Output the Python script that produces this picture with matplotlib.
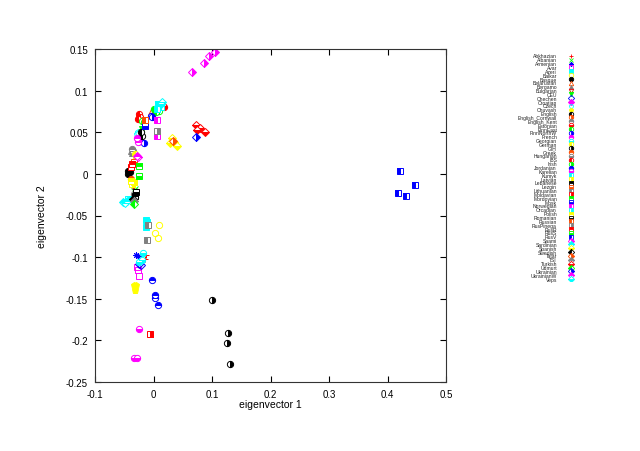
import matplotlib
matplotlib.use('Agg')
import matplotlib.pyplot as plt
from matplotlib.ticker import FuncFormatter, MultipleLocator

plt.rcParams['font.family'] = ['Liberation Sans', 'DejaVu Sans']

# population names, in legend order
pops = ['Abkhazian', 'Albanian', 'Armenian', 'Avar', 'Azeri', 'Balkar', 'Basque',
        'Belarusian', 'Bergamo', 'Bulgarian', 'CEU', 'Chechen', 'Croatian', 'Czech',
        'Chuvash', 'English', 'English_Cornwall', 'English_Kent', 'Estonian',
        'FinnEast', 'FinnNorthW', 'French', 'Georgian', 'German', 'GIH', 'Greek',
        'Hungarian', 'IBS', 'Irish', 'Jordanian', 'Karelian', 'Kumyk', 'Latvian',
        'Lebanese', 'Lezgin', 'Lithuanian', 'Moldavian', 'Mordovian', 'Mosk',
        'Norwegian', 'Orcadian', 'Polish', 'Romanian', 'Russian', 'RusPinega',
        'RusR', 'RusS', 'RusV', 'Saami', 'Sardinian', 'Spanish', 'Swedish', 'Tatar',
        'TSI', 'Turkish', 'Udmurt', 'Ukrainian', 'UkrainianW', 'Veps']

# eigenvector 1 values per population
ev1 = [
    [-0.0145, -0.012],
    [-0.033, -0.031],
    [-0.030, -0.027],
    [-0.026, -0.024, -0.028],
    [-0.012, -0.012, -0.011],
    [0.0094, 0.0025, 0.008],
    [-0.043, -0.043, -0.041],
    [-0.004, 0.0],
    [-0.038, -0.036],
    [-0.037, -0.035],
    [-0.021, -0.019, -0.022],
    [-0.025, -0.022],
    [-0.027, -0.025],
    [-0.028, -0.026],
    [-0.034, -0.030, -0.031],
    [-0.020, -0.022],
    [-0.024],
    [-0.037, -0.035],
    [0.018, 0.016],
    [0.0, 0.005, 0.010],
    [-0.004, -0.002, -0.016],
    [-0.029, -0.027],
    [-0.0175, -0.025, -0.020],
    [-0.032, -0.030],
    [0.0994, 0.128, 0.126, 0.1307],
    [-0.038],
    [-0.033, -0.031],
    [-0.025, -0.023, -0.026],
    [-0.019, -0.017],
    [-0.002, 0.0025, 0.0025, 0.007],
    [-0.024, -0.034, -0.029],
    [0.008, 0.012, 0.006],
    [-0.036, -0.034],
    [-0.033, -0.031],
    [-0.034],
    [-0.009, -0.0117],
    [-0.006],
    [-0.025],
    [-0.0146],
    [0.0054, 0.0054],
    [-0.044],
    [-0.039],
    [-0.030],
    [-0.015],
    [0.0054],
    [-0.038, -0.036],
    [-0.025],
    [0.421, 0.418, 0.4315, 0.447],
    [0.1056, 0.0953, 0.0868, 0.0663],
    [-0.0516, -0.046, -0.049],
    [0.031, 0.0396, 0.035, 0.029],
    [-0.035],
    [0.034],
    [-0.034],
    [0.0726, 0.080, 0.088, 0.075],
    [-0.034],
    [0.072],
    [-0.026, -0.028],
    [0.012, 0.014],
]

# eigenvector 2 values per population
ev2 = [
    [-0.102, -0.098],
    [-0.020, -0.018],
    [-0.097, -0.099],
    [-0.116, -0.123, -0.112],
    [-0.056, -0.064, -0.058],
    [-0.062, -0.071, -0.077],
    [0.0035, 0.0, 0.002],
    [0.074, 0.076],
    [0.028, 0.025],
    [-0.010, -0.014],
    [0.050, 0.054, 0.047],
    [-0.108, -0.110],
    [0.042, 0.039],
    [0.048, 0.050],
    [-0.134, -0.134, -0.139],
    [0.046, 0.050],
    [0.068],
    [0.030, 0.027],
    [0.080, 0.082],
    [0.078, 0.074, 0.076],
    [0.070, 0.068, 0.037],
    [0.043, 0.038],
    [-0.095, -0.106, -0.104],
    [0.024, 0.020],
    [-0.1518, -0.191, -0.203, -0.228],
    [-0.006],
    [-0.024, -0.028],
    [0.072, 0.068, 0.066],
    [0.064, 0.062],
    [-0.127, -0.1454, -0.1494, -0.158],
    [-0.186, -0.221, -0.221],
    [0.084, 0.080, 0.078],
    [-0.012, -0.010],
    [-0.030, -0.026],
    [0.014],
    [-0.062, -0.079],
    [-0.192],
    [0.010],
    [0.057],
    [0.065, 0.045],
    [-0.030],
    [-0.008],
    [-0.022],
    [0.065],
    [0.052],
    [0.008, 0.012],
    [-0.003],
    [0.0035, -0.0229, -0.0265, -0.0132],
    [0.1468, 0.1412, 0.1336, 0.1224],
    [-0.034, -0.032, -0.035],
    [0.043, 0.033, 0.038, 0.037],
    [-0.030],
    [0.039],
    [-0.033],
    [0.0587, 0.055, 0.0503, 0.053],
    [-0.036],
    [0.0447],
    [0.020, 0.022],
    [0.084, 0.086],
]

# gnuplot postscript-like colour and point type cycle
colors = ['#ff0000', '#00ff00', '#0000ff', '#ff00ff', '#00ffff', '#ffff00',
          '#000000', '#ff4d00', '#808080']
basic = [('+', 'full'), ('x', 'full'), ((8, 2, 0), 'full'), ('s', 'none'),
         ('s', 'full'), ('o', 'none'), ('o', 'full'), ('^', 'none'), ('^', 'full'),
         ('v', 'none'), ('v', 'full'), ('D', 'none'), ('D', 'full'),
         ('p', 'none'), ('p', 'full')]
halves = ['left', 'right', 'top', 'bottom']


def style(i):
    c = colors[i % 9]
    if i < 15:
        m, f = basic[i]
    else:
        if i < 31:
            m = 'o'
        elif i < 48:
            m = 's'
        else:
            m = 'D'
        f = halves[(i - 15) % 4]
    return dict(marker=m, color=c, fillstyle=f, markerfacecoloralt='white',
                markeredgecolor=c, linestyle='none')


fig = plt.figure(figsize=(6.4, 4.52), dpi=100)
ax = fig.add_axes([95/640, 1 - 383/452, 351/640, 333/452])

for i, name in enumerate(pops):
    ax.plot(ev1[i], ev2[i], ms=4.5, mew=0.7, label=name, **style(i))

ax.set_xlim(-0.1, 0.5)
ax.set_ylim(-0.25, 0.15)
ax.xaxis.set_major_locator(MultipleLocator(0.1))
ax.yaxis.set_major_locator(MultipleLocator(0.05))
fmt = FuncFormatter(lambda v, p: '%g' % round(v, 4))
ax.xaxis.set_major_formatter(fmt)
ax.yaxis.set_major_formatter(fmt)
ax.tick_params(direction='in', top=True, right=True, length=4, width=0.8,
               labelsize=7, pad=5)
for s in ax.spines.values():
    s.set_linewidth(0.8)
    s.set_color('#333333')
ax.set_xlabel('eigenvector 1', fontsize=7.5, labelpad=0)
ax.set_ylabel('eigenvector 2', fontsize=7.5, labelpad=14)

# key drawn in its own axes, one row per population
lax = fig.add_axes([480/640, 1 - 282/452, 100/640, 227/452])
lax.set_xlim(0, 100)
lax.set_ylim(len(pops) - 0.5, -0.5)
lax.axis('off')
for i, name in enumerate(pops):
    lax.plot([91], [i], ms=3.2, mew=0.6, **style(i))
    lax.text(77, i, name, ha='right', va='center', fontsize=3.6, color='#222222')

fig.savefig('out.png', dpi=100)
